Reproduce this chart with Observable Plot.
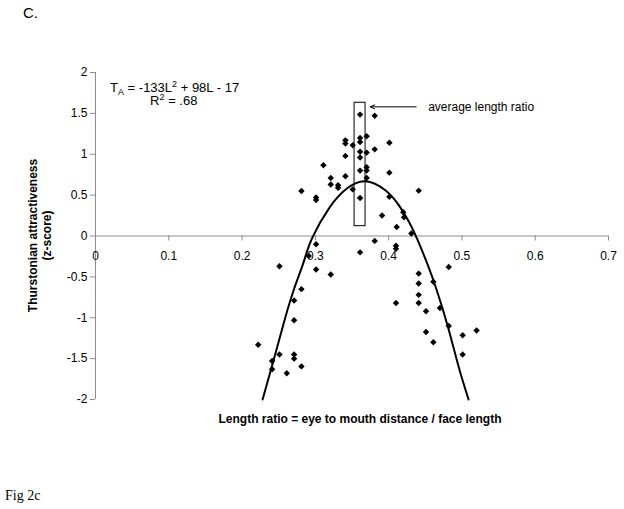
<!DOCTYPE html>
<html>
<head>
<meta charset="utf-8">
<script src="https://cdn.jsdelivr.net/npm/d3@7"></script>
<script src="https://cdn.jsdelivr.net/npm/@observablehq/plot@0.6"></script>
<style>
  html, body { margin: 0; padding: 0; background: #fff; }
  #chart svg { display: block; }
</style>
</head>
<body>
<div id="chart"></div>
<script>
// Length ratio (x) and Thurstonian attractiveness z-score (y) of each face
const ratio = [0.361,0.381,0.341,0.341,0.361,0.361,0.370,0.351,0.401,0.361,0.361,0.370,0.381,0.341,0.311,0.361,0.370,0.370,0.401,0.341,0.321,0.370,0.321,0.331,0.331,0.351,0.281,0.441,0.301,0.301,0.401,0.361,0.420,0.421,0.391,0.411,0.431,0.381,0.410,0.410,0.482,0.441,0.441,0.461,0.441,0.441,0.410,0.470,0.451,0.482,0.451,0.520,0.501,0.461,0.501,0.301,0.361,0.291,0.251,0.301,0.321,0.281,0.271,0.271,0.222,0.251,0.271,0.271,0.241,0.281,0.241,0.261];
const score = [1.485,1.47,1.17,1.13,1.20,1.15,1.22,1.11,1.14,1.03,0.96,1.02,1.06,0.98,0.865,0.80,0.84,0.80,0.775,0.73,0.71,0.71,0.63,0.62,0.59,0.57,0.55,0.555,0.47,0.44,0.48,0.465,0.29,0.23,0.25,0.11,0.03,-0.06,-0.12,-0.155,-0.38,-0.46,-0.58,-0.56,-0.72,-0.82,-0.82,-0.88,-0.92,-1.10,-1.175,-1.155,-1.215,-1.30,-1.45,-0.10,-0.20,-0.245,-0.37,-0.41,-0.47,-0.65,-0.79,-1.03,-1.33,-1.45,-1.45,-1.50,-1.53,-1.595,-1.63,-1.68];

// Fitted quadratic trend line
const fitRatio = [0.228,0.243,0.257,0.2705,0.284,0.2954,0.3195,0.343,0.368,0.3955,0.4136,0.4273,0.4386,0.4523,0.4659,0.4818,0.4955,0.509];
const fitScore = [-2.0,-1.52,-1.06,-0.66,-0.32,-0.03,0.35,0.58,0.67,0.56,0.38,0.18,-0.03,-0.33,-0.67,-1.14,-1.60,-2.0];

// Average length ratio box and its arrow
const avgBox = {x1: 0.3535, x2: 0.3685, y1: 0.12, y2: 1.63};
const avgArrow = {x1: 0.4375, x2: 0.375, y: 1.58};
const avgLabel = "average length ratio";

const xTicks = [0, 0.1, 0.2, 0.3, 0.4, 0.5, 0.6, 0.7];
const yTicks = [-2, -1.5, -1, -0.5, 0, 0.5, 1, 1.5, 2];

const points = ratio.map((r, i) => ({r, s: score[i]}));
const fit = fitRatio.map((r, i) => ({r, s: fitScore[i]}));

const axisGray = "#8c8c8c";
const font = "'Liberation Sans', Arial, sans-serif";

const chart = Plot.plot({
  width: 624,
  height: 509,
  marginLeft: 95,
  marginRight: 16,
  marginTop: 72,
  marginBottom: 110,
  style: {fontFamily: font, fontSize: "12px", color: "#000", background: "#fff"},
  x: {domain: [0, 0.7], axis: null},
  y: {domain: [-2, 2], axis: null},
  marks: [
    Plot.ruleX([0], {stroke: axisGray}),
    Plot.ruleY([0], {stroke: axisGray}),
    Plot.axisY(yTicks, {anchor: "left", tickSize: 5, tickPadding: 3, stroke: axisGray, tickFormat: d => String(d), fontSize: 12, fill: "#000"}),
    Plot.ruleX(xTicks, {x: d => d, y1: 0, y2: 0, insetBottom: -5, stroke: axisGray}),
    Plot.text(xTicks, {x: d => d, y: () => 0, dy: 20, text: d => String(d), fontSize: 12, fill: "#000"}),
    Plot.rect([avgBox], {x1: "x1", x2: "x2", y1: "y1", y2: "y2", fill: "none", stroke: "#000", strokeWidth: 1}),
    Plot.arrow([avgArrow], {x1: "x1", x2: "x2", y1: "y", y2: "y", stroke: "#000", strokeWidth: 1, headLength: 7, headAngle: 50}),
    Plot.text([avgArrow], {x: "x1", y: "y", dx: 12, text: () => avgLabel, textAnchor: "start", fontSize: 12, fill: "#000"}),
    Plot.line(fit, {x: "r", y: "s", curve: "natural", stroke: "#000", strokeWidth: 2}),
    Plot.dot(points, {x: "r", y: "s", symbol: "diamond2", r: 2.9, fill: "#000", stroke: "none"})
  ]
});

const svg = d3.select(chart);
const xs = chart.scale("x"), ys = chart.scale("y");

// Equation annotation
const eq = svg.append("text")
  .attr("x", xs.apply(0.0205)).attr("y", ys.apply(1.75))
  .attr("text-anchor", "start")
  .attr("font-family", font).attr("font-size", 13).attr("fill", "#000");
eq.append("tspan").text("T");
eq.append("tspan").attr("font-size", 9).attr("dy", 3).text("A");
eq.append("tspan").attr("dy", -3).text(" = -133L");
eq.append("tspan").attr("font-size", 9).attr("dy", -5).text("2");
eq.append("tspan").attr("dy", 5).text(" + 98L - 17");

const r2 = svg.append("text")
  .attr("x", xs.apply(0.0752)).attr("y", ys.apply(1.6))
  .attr("text-anchor", "start")
  .attr("font-family", font).attr("font-size", 13).attr("fill", "#000");
r2.append("tspan").text("R");
r2.append("tspan").attr("font-size", 9).attr("dy", -5).text("2");
r2.append("tspan").attr("dy", 5).text(" = .68");

// Axis titles
const midY = (ys.apply(2) + ys.apply(-2)) / 2;
svg.append("text")
  .attr("transform", `translate(37,${midY}) rotate(-90)`)
  .attr("text-anchor", "middle").attr("font-family", font).attr("font-weight", "bold")
  .attr("font-size", 12).text("Thurstonian attractiveness");
svg.append("text")
  .attr("transform", `translate(51,${midY}) rotate(-90)`)
  .attr("text-anchor", "middle").attr("font-family", font).attr("font-weight", "bold")
  .attr("font-size", 12).text("(z-score)");
svg.append("text")
  .attr("x", 360).attr("y", 423)
  .attr("text-anchor", "middle").attr("font-family", font).attr("font-weight", "bold")
  .attr("font-size", 12).text("Length ratio = eye to mouth distance / face length");

// Panel letter and figure caption
svg.append("text").attr("x", 23).attr("y", 18).attr("text-anchor", "start")
  .attr("font-family", font).attr("font-size", 15).text("C.");
svg.append("text").attr("x", 5).attr("y", 500).attr("text-anchor", "start")
  .attr("font-family", "'Liberation Serif', 'Times New Roman', serif").attr("font-size", 14).text("Fig 2c");

document.getElementById("chart").appendChild(chart);
</script>
</body>
</html>
